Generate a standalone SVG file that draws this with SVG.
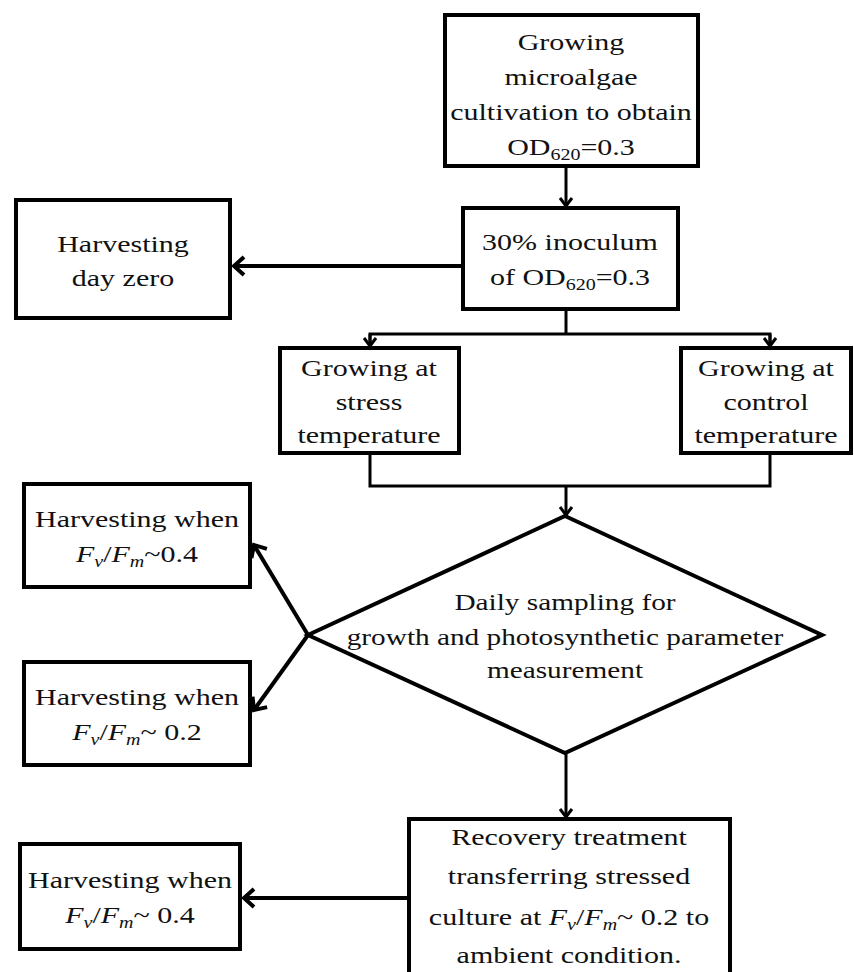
<svg xmlns="http://www.w3.org/2000/svg" width="854" height="972" viewBox="0 0 854 972">
  <style>
    .box { fill: #ffffff; stroke: #000000; stroke-width: 4; }
    .t { font-family: "Liberation Serif", "Times New Roman", serif; font-size: 24px; fill: #111111; text-anchor: middle; }
    .sub { font-size: 16px; }
    .i { font-style: italic; }
    .thin { fill: none; stroke: #000000; stroke-width: 3; }
    .thick { fill: none; stroke: #000000; stroke-width: 4; }
  </style>
  <defs>
    <marker id="headS" markerUnits="userSpaceOnUse" markerWidth="20" markerHeight="20" viewBox="-12 -10 14 20" refX="0" refY="0" orient="auto">
      <path d="M-8,-6 L0,0 L-8,6" fill="none" stroke="#000000" stroke-width="3"/>
    </marker>
    <marker id="headB" markerUnits="userSpaceOnUse" markerWidth="26" markerHeight="26" viewBox="-15 -13 18 26" refX="0" refY="0" orient="auto">
      <path d="M-10,-9 L0,0 L-10,9" fill="none" stroke="#000000" stroke-width="4"/>
    </marker>
  </defs>
  <rect width="854" height="972" fill="#ffffff"/>

  <g id="connectors">
    <line class="thin" x1="566" y1="167" x2="566" y2="206" marker-end="url(#headS)"/>
    <line class="thick" x1="463" y1="266" x2="234" y2="266" marker-end="url(#headB)"/>
    <polyline class="thin" points="566,310 566,334"/>
    <polyline class="thin" points="370,345 370,334 770,334 770,345"/>
    <line class="thin" x1="370" y1="334" x2="370" y2="346" marker-end="url(#headS)"/>
    <line class="thin" x1="770" y1="334" x2="770" y2="346" marker-end="url(#headS)"/>
    <polyline class="thin" points="370,453 370,486 770,486 770,453"/>
    <line class="thin" x1="566" y1="486" x2="566" y2="515" marker-end="url(#headS)"/>
    <line class="thick" x1="308" y1="635" x2="254" y2="545" marker-end="url(#headB)"/>
    <line class="thick" x1="308" y1="635" x2="254" y2="710" marker-end="url(#headB)"/>
    <line class="thin" x1="566" y1="753" x2="566" y2="817" marker-end="url(#headS)"/>
    <line class="thick" x1="408" y1="898" x2="244" y2="898" marker-end="url(#headB)"/>
  </g>

  <g id="n-grow">
    <rect class="box" x="445" y="15" width="253" height="151"/>
    <g transform="translate(571,0) scale(1.25,1)">
      <text class="t" x="0" y="50">Growing</text>
      <text class="t" x="0" y="85">microalgae</text>
      <text class="t" x="0" y="120">cultivation to obtain</text>
      <text class="t" x="0" y="155">OD<tspan class="sub" dy="5">620</tspan><tspan dy="-5">=0.3</tspan></text>
    </g>
  </g>

  <g id="n-inoculum">
    <rect class="box" x="463" y="208" width="215" height="101"/>
    <g transform="translate(570,0) scale(1.25,1)">
      <text class="t" x="0" y="250">30% inoculum</text>
      <text class="t" x="0" y="285">of OD<tspan class="sub" dy="5">620</tspan><tspan dy="-5">=0.3</tspan></text>
    </g>
  </g>

  <g id="n-dayzero">
    <rect class="box" x="16" y="200" width="214" height="118"/>
    <g transform="translate(123,0) scale(1.25,1)">
      <text class="t" x="0" y="252">Harvesting</text>
      <text class="t" x="0" y="286">day zero</text>
    </g>
  </g>

  <g id="n-stress">
    <rect class="box" x="280" y="348" width="179" height="105"/>
    <g transform="translate(369,0) scale(1.25,1)">
      <text class="t" x="0" y="376">Growing at</text>
      <text class="t" x="0" y="410">stress</text>
      <text class="t" x="0" y="443">temperature</text>
    </g>
  </g>

  <g id="n-control">
    <rect class="box" x="681" y="348" width="170" height="105"/>
    <g transform="translate(766,0) scale(1.25,1)">
      <text class="t" x="0" y="376">Growing at</text>
      <text class="t" x="0" y="410">control</text>
      <text class="t" x="0" y="443">temperature</text>
    </g>
  </g>

  <g id="n-sampling">
    <polygon class="box" points="565,516 822,635 565,753 308,635"/>
    <g transform="translate(565,0) scale(1.22,1)">
      <text class="t" x="0" y="610">Daily sampling  for</text>
      <text class="t" x="0" y="645">growth and photosynthetic  parameter</text>
      <text class="t" x="0" y="678">measurement</text>
    </g>
  </g>

  <g id="n-harvest04">
    <rect class="box" x="24" y="484" width="226" height="103"/>
    <g transform="translate(137,0) scale(1.25,1)">
      <text class="t" x="0" y="527">Harvesting  when</text>
      <text class="t" x="0" y="562"><tspan class="i">F</tspan><tspan class="i sub" dy="5">v</tspan><tspan dy="-5">/</tspan><tspan class="i">F</tspan><tspan class="i sub" dy="5">m</tspan><tspan dy="-5">~0.4</tspan></text>
    </g>
  </g>

  <g id="n-harvest02">
    <rect class="box" x="24" y="662" width="226" height="103"/>
    <g transform="translate(137,0) scale(1.25,1)">
      <text class="t" x="0" y="705">Harvesting  when</text>
      <text class="t" x="0" y="740"><tspan class="i">F</tspan><tspan class="i sub" dy="5">v</tspan><tspan dy="-5">/</tspan><tspan class="i">F</tspan><tspan class="i sub" dy="5">m</tspan><tspan dy="-5">~ 0.2</tspan></text>
    </g>
  </g>

  <g id="n-recovery">
    <rect class="box" x="409" y="819" width="321" height="170"/>
    <g transform="translate(569,0) scale(1.25,1)">
      <text class="t" x="0" y="845">Recovery treatment</text>
      <text class="t" x="0" y="884">transferring  stressed</text>
      <text class="t" x="0" y="925">culture at <tspan class="i">F</tspan><tspan class="i sub" dy="5">v</tspan><tspan dy="-5">/</tspan><tspan class="i">F</tspan><tspan class="i sub" dy="5">m</tspan><tspan dy="-5">~ 0.2 to</tspan></text>
      <text class="t" x="0" y="963">ambient condition.</text>
    </g>
  </g>

  <g id="n-harvest04b">
    <rect class="box" x="20" y="844" width="220" height="105"/>
    <g transform="translate(130,0) scale(1.25,1)">
      <text class="t" x="0" y="888">Harvesting  when</text>
      <text class="t" x="0" y="923"><tspan class="i">F</tspan><tspan class="i sub" dy="5">v</tspan><tspan dy="-5">/</tspan><tspan class="i">F</tspan><tspan class="i sub" dy="5">m</tspan><tspan dy="-5">~ 0.4</tspan></text>
    </g>
  </g>
</svg>
